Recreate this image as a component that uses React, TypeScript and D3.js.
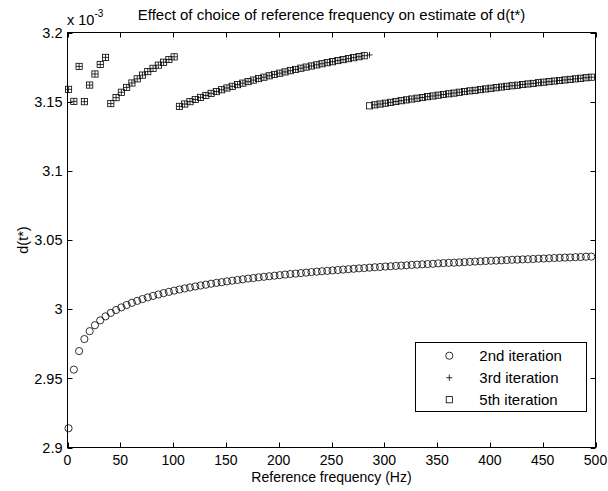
import React from 'react';
import * as d3 from 'd3';

// Reference frequencies (Hz)
const freqs = [
  1, 6, 11, 16, 21, 26, 31, 36, 41, 46,
  51, 56, 61, 66, 71, 76, 81, 86, 91, 96,
  101, 106, 111, 116, 121, 126, 131, 136, 141, 146,
  151, 156, 161, 166, 171, 176, 181, 186, 191, 196,
  201, 206, 211, 216, 221, 226, 231, 236, 241, 246,
  251, 256, 261, 266, 271, 276, 281, 286, 291, 296,
  301, 306, 311, 316, 321, 326, 331, 336, 341, 346,
  351, 356, 361, 366, 371, 376, 381, 386, 391, 396,
  401, 406, 411, 416, 421, 426, 431, 436, 441, 446,
  451, 456, 461, 466, 471, 476, 481, 486, 491, 496,
];

// d(t*) estimates, in units of 1e-3
const iter2 = [
  2.9139, 2.9563, 2.9697, 2.9784, 2.9841, 2.9884, 2.9919, 2.9948, 2.9973, 2.9994,
  3.0013, 3.0030, 3.0046, 3.0060, 3.0073, 3.0085, 3.0096, 3.0106, 3.0116, 3.0125,
  3.0134, 3.0142, 3.0150, 3.0157, 3.0164, 3.0171, 3.0177, 3.0184, 3.0190, 3.0195,
  3.0201, 3.0206, 3.0211, 3.0216, 3.0221, 3.0225, 3.0230, 3.0234, 3.0238, 3.0242,
  3.0246, 3.0250, 3.0254, 3.0257, 3.0261, 3.0264, 3.0268, 3.0271, 3.0274, 3.0277,
  3.0280, 3.0283, 3.0286, 3.0289, 3.0292, 3.0295, 3.0297, 3.0300, 3.0303, 3.0305,
  3.0308, 3.0310, 3.0313, 3.0315, 3.0317, 3.0320, 3.0322, 3.0324, 3.0326, 3.0328,
  3.0331, 3.0333, 3.0335, 3.0336, 3.0338, 3.0340, 3.0342, 3.0344, 3.0346, 3.0348,
  3.0350, 3.0351, 3.0353, 3.0355, 3.0357, 3.0358, 3.0360, 3.0361, 3.0363, 3.0365,
  3.0366, 3.0368, 3.0370, 3.0371, 3.0373, 3.0374, 3.0376, 3.0377, 3.0379, 3.0380,
];

const iter3 = [
  3.1589, 3.1502, 3.1755, 3.1500, 3.1620, 3.1700, 3.1769, 3.1820, 3.1486, 3.1529,
  3.1568, 3.1603, 3.1635, 3.1665, 3.1692, 3.1717, 3.1741, 3.1764, 3.1785, 3.1805,
  3.1824, 3.1466, 3.1483, 3.1500, 3.1516, 3.1531, 3.1545, 3.1560, 3.1573, 3.1586,
  3.1599, 3.1611, 3.1623, 3.1634, 3.1645, 3.1656, 3.1667, 3.1677, 3.1687, 3.1697,
  3.1706, 3.1715, 3.1724, 3.1733, 3.1742, 3.1750, 3.1758, 3.1766, 3.1774, 3.1782,
  3.1789, 3.1797, 3.1804, 3.1811, 3.1818, 3.1825, 3.1832, 3.1838, 3.1477, 3.1483,
  3.1489, 3.1495, 3.1501, 3.1507, 3.1513, 3.1519, 3.1525, 3.1530, 3.1536, 3.1541,
  3.1547, 3.1552, 3.1557, 3.1562, 3.1568, 3.1573, 3.1578, 3.1582, 3.1587, 3.1592,
  3.1597, 3.1601, 3.1606, 3.1611, 3.1615, 3.1619, 3.1624, 3.1628, 3.1632, 3.1637,
  3.1641, 3.1645, 3.1649, 3.1653, 3.1657, 3.1661, 3.1665, 3.1669, 3.1673, 3.1677,
];

const iter5 = [
  3.1589, 3.1502, 3.1755, 3.1500, 3.1620, 3.1700, 3.1769, 3.1820, 3.1486, 3.1529,
  3.1568, 3.1603, 3.1635, 3.1665, 3.1692, 3.1717, 3.1741, 3.1764, 3.1785, 3.1805,
  3.1824, 3.1466, 3.1483, 3.1500, 3.1516, 3.1531, 3.1545, 3.1560, 3.1573, 3.1586,
  3.1599, 3.1611, 3.1623, 3.1634, 3.1645, 3.1656, 3.1667, 3.1677, 3.1687, 3.1697,
  3.1706, 3.1715, 3.1724, 3.1733, 3.1742, 3.1750, 3.1758, 3.1766, 3.1774, 3.1782,
  3.1789, 3.1797, 3.1804, 3.1811, 3.1818, 3.1825, 3.1832, 3.1470, 3.1477, 3.1483,
  3.1489, 3.1495, 3.1501, 3.1507, 3.1513, 3.1519, 3.1525, 3.1530, 3.1536, 3.1541,
  3.1547, 3.1552, 3.1557, 3.1562, 3.1568, 3.1573, 3.1578, 3.1582, 3.1587, 3.1592,
  3.1597, 3.1601, 3.1606, 3.1611, 3.1615, 3.1619, 3.1624, 3.1628, 3.1632, 3.1637,
  3.1641, 3.1645, 3.1649, 3.1653, 3.1657, 3.1661, 3.1665, 3.1669, 3.1673, 3.1677,
];

const xTicks = [0, 50, 100, 150, 200, 250, 300, 350, 400, 450, 500];
const yTicks = [2.9, 2.95, 3.0, 3.05, 3.1, 3.15, 3.2];
const yTickLabels = ['2.9', '2.95', '3', '3.05', '3.1', '3.15', '3.2'];
const legendLabels = ['2nd iteration', '3rd iteration', '5th iteration'];

const W = 608;
const H = 491;
const FONT = "'Liberation Sans', Arial, Helvetica, sans-serif";
const STROKE = 0.8;
const R = 3.6; // circle marker radius
const S = 3.1; // half size of square / plus markers

const Circle = ({ cx, cy }: { cx: number; cy: number }) => (
  <circle cx={cx} cy={cy} r={R} fill="none" stroke="#000" strokeWidth={STROKE} />
);
const Plus = ({ cx, cy }: { cx: number; cy: number }) => (
  <path d={`M${cx - S},${cy}H${cx + S}M${cx},${cy - S}V${cy + S}`} stroke="#000" strokeWidth={STROKE} fill="none" />
);
const Square = ({ cx, cy }: { cx: number; cy: number }) => (
  <rect x={cx - S} y={cy - S} width={2 * S} height={2 * S} fill="none" stroke="#000" strokeWidth={STROKE} />
);

export default function App() {
  const x = d3.scaleLinear().domain([0, 500]).range([67.5, 595.5]);
  const y = d3.scaleLinear().domain([2.9, 3.2]).range([447.5, 32.5]);
  const [x0, x1] = x.range();
  const [yb, yt] = y.range();
  const tick = 5;

  const legX = 415.5;
  const legY = 342.5;
  const legW = 171;
  const legH = 69;
  const rowY = [355.7, 377.7, 399.7];

  return (
    <svg width={W} height={H} style={{ position: 'absolute', left: 0, top: 0, background: '#fff' }} fontFamily={FONT}>
      <rect width={W} height={H} fill="#fff" />

      {/* axis box */}
      <rect x={x0} y={yt} width={x1 - x0} height={yb - yt} fill="none" stroke="#000" strokeWidth={1} />

      {/* x ticks, inward on bottom and top */}
      {xTicks.map((t) => (
        <g key={`xt${t}`}>
          <line x1={Math.round(x(t)) + 0.5} x2={Math.round(x(t)) + 0.5} y1={yb} y2={yb - tick} stroke="#000" />
          <line x1={Math.round(x(t)) + 0.5} x2={Math.round(x(t)) + 0.5} y1={yt} y2={yt + tick} stroke="#000" />
          <text x={x(t)} y={465} fontSize={14} textAnchor="middle" fill="#000">{t}</text>
        </g>
      ))}

      {/* y ticks, inward on left and right */}
      {yTicks.map((t, i) => (
        <g key={`yt${t}`}>
          <line x1={x0} x2={x0 + tick} y1={Math.round(y(t)) + 0.5} y2={Math.round(y(t)) + 0.5} stroke="#000" />
          <line x1={x1} x2={x1 - tick} y1={Math.round(y(t)) + 0.5} y2={Math.round(y(t)) + 0.5} stroke="#000" />
          <text x={62.5} y={y(t)} dy="0.36em" fontSize={14.5} textAnchor="end" fill="#000">{yTickLabels[i]}</text>
        </g>
      ))}

      {/* exponent label */}
      <text x={67} y={25} fontSize={14.5} fill="#000">
        x 10
        <tspan fontSize={10} dy={-8}>-3</tspan>
      </text>

      {/* title */}
      <text x={(x0 + x1) / 2} y={20} fontSize={15} textAnchor="middle" fill="#000">
        Effect of choice of reference frequency on estimate of d(t*)
      </text>

      {/* axis labels */}
      <text x={(x0 + x1) / 2} y={482} fontSize={14} textAnchor="middle" fill="#000">Reference frequency (Hz)</text>
      <text transform={`translate(28,${(yb + yt) / 2}) rotate(-90)`} fontSize={14.5} textAnchor="middle" fill="#000">d(t*)</text>

      {/* series markers */}
      <g>
        {freqs.map((f, i) => <Circle key={`c${i}`} cx={x(f)} cy={y(iter2[i])} />)}
      </g>
      <g>
        {freqs.map((f, i) => <Plus key={`p${i}`} cx={x(f)} cy={y(iter3[i])} />)}
      </g>
      <g>
        {freqs.map((f, i) => <Square key={`s${i}`} cx={x(f)} cy={y(iter5[i])} />)}
      </g>

      {/* legend */}
      <rect x={legX} y={legY} width={legW} height={legH} fill="#fff" stroke="#000" strokeWidth={1} />
      <Circle cx={449.3} cy={rowY[0]} />
      <Plus cx={449.3} cy={rowY[1]} />
      <Square cx={449.3} cy={rowY[2]} />
      {legendLabels.map((l, i) => (
        <text key={l} x={479.3} y={rowY[i]} dy="0.36em" fontSize={15} fill="#000">{l}</text>
      ))}
    </svg>
  );
}
